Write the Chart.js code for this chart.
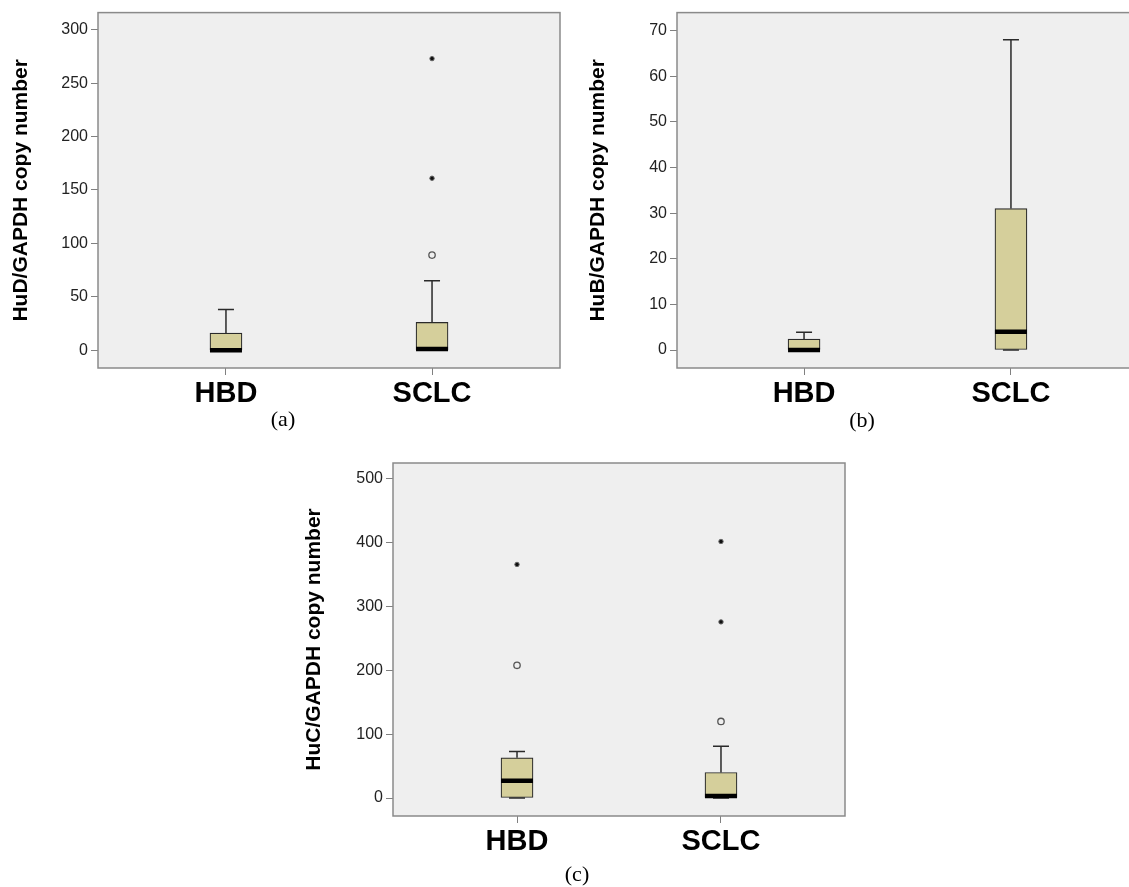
<!DOCTYPE html>
<html>
<head>
<meta charset="utf-8">
<script src="https://cdn.jsdelivr.net/npm/chart.js@4.4.1/dist/chart.umd.min.js"></script>
<style>
    html, body { margin: 0; padding: 0; background: #fff; overflow: hidden; }
    body { width: 1129px; height: 887px; position: relative; }
    canvas { position: absolute; }
    .caption {
        position: absolute;
        font-family: "Liberation Serif", "Times New Roman", serif;
        font-size: 22px;
        color: #000;
        transform: translate(-50%, -50%);
    }
</style>
</head>
<body>
<canvas id="chart-a" width="600" height="440" style="left:0px; top:0px;"></canvas>
<canvas id="chart-b" width="600" height="440" style="left:577px; top:0px;"></canvas>
<canvas id="chart-c" width="600" height="447" style="left:293px; top:440px;"></canvas>
<div class="caption" style="left:283px; top:419px;">(a)</div>
<div class="caption" style="left:862px; top:420px;">(b)</div>
<div class="caption" style="left:577px; top:874px;">(c)</div>

<script>
// --- Data ---
const categories = ['HBD', 'SCLC'];

// (a) HuD
const hudTicks = [0, 50, 100, 150, 200, 250, 300];
const hudMin = [0, 0];
const hudQ1 = [0, 0];
const hudMedian = [0, 1];
const hudQ3 = [16, 26];
const hudMax = [38, 65];
const hudCircles = [[1, 89]];
const hudStars = [[1, 161], [1, 273]];

// (b) HuB
const hubTicks = [0, 10, 20, 30, 40, 50, 60, 70];
const hubMin = [0, 0];
const hubQ1 = [0, 0];
const hubMedian = [0, 4];
const hubQ3 = [2.4, 31];
const hubMax = [3.9, 68];
const hubCircles = [];
const hubStars = [];

// (c) HuC
const hucTicks = [0, 100, 200, 300, 400, 500];
const hucMin = [0, 0];
const hucQ1 = [0, 0];
const hucMedian = [27, 3];
const hucQ3 = [63, 40];
const hucMax = [73, 81];
const hucCircles = [[0, 208], [1, 120]];
const hucStars = [[0, 366], [1, 276], [1, 402]];

// --- Styles ---
const SANS = '"Liberation Sans", Arial, sans-serif';
const PLOT_BG = '#efefef';
const FRAME = '#8a8a8a';
const BOX_FILL = '#d5cf9b';
const INK = '#2a2a2a';

// whiskers, caps, medians, plot background and frame
function boxPlotPlugin(stats) {
    return {
        id: 'boxPlot',
        beforeDraw(chart) {
            const a = chart.chartArea;
            const ctx = chart.ctx;
            ctx.save();
            ctx.fillStyle = PLOT_BG;
            ctx.fillRect(a.left, a.top, a.right - a.left, a.bottom - a.top);
            ctx.restore();
        },
        afterDatasetsDraw(chart) {
            const x = chart.scales.x;
            const y = chart.scales.y;
            const ctx = chart.ctx;
            ctx.save();
            categories.forEach((cat, i) => {
                const cx = x.getPixelForValue(i);
                const capHalf = 8;
                const boxHalf = 16;
                ctx.strokeStyle = INK;
                ctx.lineWidth = 1.5;
                // upper whisker
                ctx.beginPath();
                ctx.moveTo(cx, y.getPixelForValue(stats.q3[i]));
                ctx.lineTo(cx, y.getPixelForValue(stats.max[i]));
                ctx.moveTo(cx - capHalf, y.getPixelForValue(stats.max[i]));
                ctx.lineTo(cx + capHalf, y.getPixelForValue(stats.max[i]));
                // lower whisker
                ctx.moveTo(cx, y.getPixelForValue(stats.q1[i]));
                ctx.lineTo(cx, y.getPixelForValue(stats.min[i]));
                ctx.moveTo(cx - capHalf, y.getPixelForValue(stats.min[i]));
                ctx.lineTo(cx + capHalf, y.getPixelForValue(stats.min[i]));
                ctx.stroke();
                // median
                ctx.strokeStyle = '#000';
                ctx.lineWidth = 4.5;
                ctx.beginPath();
                ctx.moveTo(cx - boxHalf, y.getPixelForValue(stats.median[i]));
                ctx.lineTo(cx + boxHalf, y.getPixelForValue(stats.median[i]));
                ctx.stroke();
            });
            ctx.restore();
        },
        afterDraw(chart) {
            const a = chart.chartArea;
            const ctx = chart.ctx;
            ctx.save();
            ctx.strokeStyle = FRAME;
            ctx.lineWidth = 1.5;
            ctx.strokeRect(a.left, a.top, a.right - a.left, a.bottom - a.top);
            ctx.restore();
        }
    };
}

function toPoints(pairs) {
    return pairs.map(p => ({ x: p[0], y: p[1] }));
}

function makePanel(canvasId, p) {
    const stats = { min: p.min, q1: p.q1, median: p.median, q3: p.q3, max: p.max };

    return new Chart(document.getElementById(canvasId), {
        type: 'bar',
        data: {
            datasets: [{
                data: categories.map((c, i) => ({ x: i, y: [p.q1[i], p.q3[i]] })),
                backgroundColor: BOX_FILL,
                borderColor: INK,
                borderWidth: 1.2,
                borderSkipped: false,
                barThickness: 32
            }, {
                type: 'scatter',
                data: toPoints(p.circles),
                pointStyle: 'circle',
                pointRadius: 3.2,
                backgroundColor: PLOT_BG,
                borderColor: '#555',
                borderWidth: 1.3
            }, {
                type: 'scatter',
                data: toPoints(p.stars),
                pointStyle: 'circle',
                pointRadius: 2.2,
                backgroundColor: '#111',
                borderColor: '#666',
                borderWidth: 1
            }]
        },
        options: {
            responsive: false,
            animation: false,
            events: [],
            layout: { padding: p.padding },
            plugins: {
                legend: { display: false },
                tooltip: { enabled: false }
            },
            scales: {
                x: {
                    type: 'linear',
                    min: p.xRange[0],
                    max: p.xRange[1],
                    offset: false,
                    border: { display: false },
                    grid: { drawOnChartArea: false, drawTicks: true, tickLength: 7, tickColor: '#808080', offset: false },
                    afterBuildTicks: (scale) => { scale.ticks = categories.map((c, i) => ({ value: i })); },
                    afterFit: (scale) => { scale.height = 50; },
                    ticks: {
                        autoSkip: false,
                        maxRotation: 0,
                        padding: 2,
                        color: '#000',
                        font: { family: SANS, size: 29, weight: 'bold' },
                        callback: (value, index) => categories[index]
                    }
                },
                y: {
                    type: 'linear',
                    min: p.yRange[0],
                    max: p.yRange[1],
                    border: { display: false },
                    grid: { drawOnChartArea: false, drawTicks: true, tickLength: 7, tickColor: '#808080' },
                    afterBuildTicks: (scale) => { scale.ticks = p.ticks.map(v => ({ value: v })); },
                    afterFit: (scale) => { scale.width = p.yWidth; },
                    ticks: {
                        autoSkip: false,
                        padding: 3,
                        color: '#222',
                        font: { family: SANS, size: 16 },
                        callback: (value) => String(value)
                    },
                    title: {
                        display: true,
                        text: p.title,
                        color: '#000',
                        padding: { top: 9, bottom: 0 },
                        font: { family: SANS, size: 21, weight: 'bold', lineHeight: 1.2 }
                    }
                }
            }
        },
        plugins: [boxPlotPlugin(stats)]
    });
}

// --- Run ---
makePanel('chart-a', {
    title: 'HuD/GAPDH copy number',
    ticks: hudTicks, min: hudMin, q1: hudQ1, median: hudMedian, q3: hudQ3, max: hudMax,
    circles: hudCircles, stars: hudStars,
    yRange: [-16.7, 316.1], xRange: [-0.621, 1.621],
    yWidth: 98, padding: { left: 0, top: 9, right: 40, bottom: 22 }
});

makePanel('chart-b', {
    title: 'HuB/GAPDH copy number',
    ticks: hubTicks, min: hubMin, q1: hubQ1, median: hubMedian, q3: hubQ3, max: hubMax,
    circles: hubCircles, stars: hubStars,
    yRange: [-3.94, 73.94], xRange: [-0.614, 1.614],
    yWidth: 100, padding: { left: 0, top: 12, right: 39, bottom: 22 }
});

makePanel('chart-c', {
    title: 'HuC/GAPDH copy number',
    ticks: hucTicks, min: hucMin, q1: hucQ1, median: hucMedian, q3: hucQ3, max: hucMax,
    circles: hucCircles, stars: hucStars,
    yRange: [-28.2, 525], xRange: [-0.608, 1.608],
    yWidth: 100, padding: { left: 0, top: 23, right: 48, bottom: 21 }
});
</script>
</body>
</html>
